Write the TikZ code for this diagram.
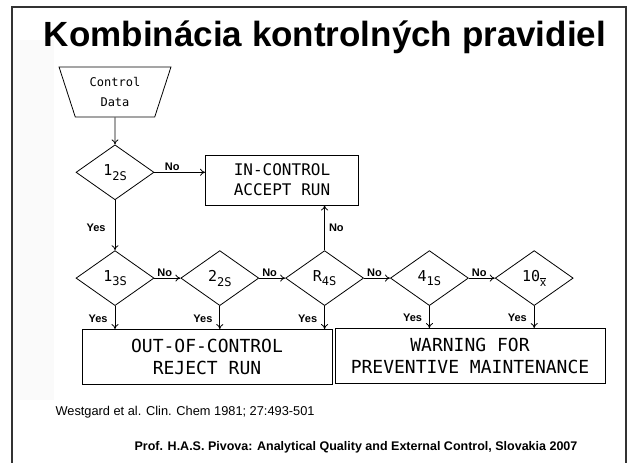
\documentclass[tikz,border=0pt]{standalone}
\usepackage{fontspec}
\setmainfont{Liberation Sans}
\newfontfamily\letterfont{DejaVu Sans Mono}
\usetikzlibrary{arrows.meta, positioning, shapes.geometric}

% rule name with its subscript
\newcommand{\wrule}[2]{#1\raisebox{-0.6ex}{\fontsize{12}{12}\selectfont #2}}

\begin{document}
\begin{tikzpicture}[x=1pt, y=-1pt,
    node distance = 26pt,
    test/.style    = {diamond, draw, thick, minimum width=78pt, minimum height=55pt,
                      inner sep=0pt, font=\letterfont\fontsize{15}{15}\selectfont},
    result/.style  = {rectangle, draw, thick, align=center,
                      font=\letterfont\fontsize{18}{22}\selectfont},
    data/.style    = {trapezium, shape border rotate=180, trapezium angle=72,
                      draw, thick, minimum height=50pt, minimum width=80pt,
                      align=center, font=\letterfont\fontsize{12}{20}\selectfont},
    flow/.style    = {-{To[length=5pt,width=7pt]}, thick},
    tag/.style     = {font=\fontsize{11}{11}\selectfont\bfseries, inner sep=1pt},
]
\useasboundingbox (0,0) rectangle (637,463);

% slide frame
\fill[gray!4] (13,40) rectangle (54,400);
\draw[line width=1.2pt, black!80] (12,463) -- (12,7) -- (626,7) -- (626,463);

% title
\node[font=\fontsize{35}{35}\selectfont\bfseries] (title) at (325,37) {Kombinácia kontrolných pravidiel};

% input and first rule
\node[data] (cdata) at (115,92) {Control\\Data};
\node[test, below=27pt of cdata] (r12s) {\wrule{1}{2S}};
\node[result, minimum width=153pt, minimum height=50pt, font=\letterfont\fontsize{16}{20}\selectfont]
      (accept) at (282,180) {IN-CONTROL\\ACCEPT RUN};

% chain of rules
\node[test, below=50pt of r12s] (r13s) {\wrule{1}{3S}};
\node[test, right=of r13s]      (r22s) {\wrule{2}{2S}};
\node[test, right=of r22s]      (rr4s) {\wrule{R}{4S}};
\node[test, right=of rr4s]      (r41s) {\wrule{4}{1S}};
\node[test, right=of r41s]      (r10x) {\wrule{10}{$\overline{\mathrm{x}}$}};

% outcomes
\node[result, minimum width=250pt, minimum height=55pt] (reject) at (207,357)
      {OUT-OF-CONTROL\\REJECT RUN};
\node[result, minimum width=270pt, minimum height=55pt] (warn) at (470,356)
      {WARNING FOR\\PREVENTIVE MAINTENANCE};

% connectors
\draw[flow] (cdata) -- (r12s);
\draw[flow] (r12s.east) -- node[tag, above, pos=0.35] (n1) {No} (accept.west |- r12s.east);
\draw[flow] (r12s) -- node[tag, left, pos=0.55, xshift=-8pt] (y1) {Yes} (r13s);
\draw[flow] (r13s) -- node[tag, above, pos=0.4] (n2) {No} (r22s);
\draw[flow] (r22s) -- node[tag, above, pos=0.4] (n3) {No} (rr4s);
\draw[flow] (rr4s) -- node[tag, above, pos=0.4] (n4) {No} (r41s);
\draw[flow] (r41s) -- node[tag, above, pos=0.4] (n5) {No} (r10x);
\draw[flow] (rr4s) -- node[tag, right, pos=0.5, xshift=3pt] (n6) {No} (rr4s |- accept.south);

\foreach \r/\b in {r13s/reject, r22s/reject, rr4s/reject, r41s/warn, r10x/warn}
  \draw[flow] (\r) -- node[tag, left, pos=0.55, xshift=-6pt] {Yes} (\r |- \b.north);

% references
\node[anchor=west, font=\fontsize{12.8}{14}\selectfont] (ref) at (52,412)
      {Westgard et al. Clin. Chem 1981; 27:493-501};
\node[font=\fontsize{12.5}{14}\selectfont\bfseries] (src) at (356,447)
      {Prof. H.A.S. Pivova: Analytical Quality and External Control, Slovakia 2007};
\end{tikzpicture}
\end{document}
